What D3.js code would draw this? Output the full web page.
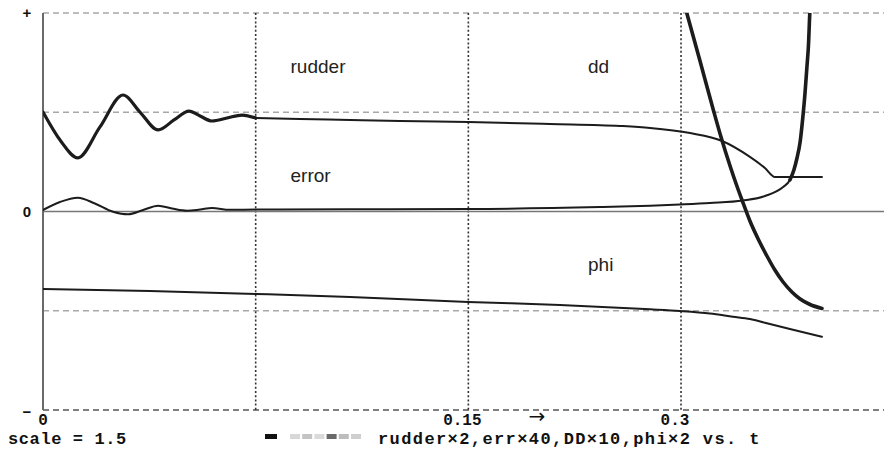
<!DOCTYPE html>
<html>
<head>
<meta charset="utf-8">
<script src="https://cdn.jsdelivr.net/npm/d3@7/dist/d3.min.js"></script>
<style>
  html, body { margin: 0; padding: 0; background: #fff; }
  svg { display: block; }
</style>
</head>
<body>
<script>
// Time samples (s) and scaled responses for each trace
const rudderT = [0, 0.0060, 0.0123, 0.0201, 0.0282, 0.0342, 0.0406, 0.0462, 0.0515, 0.0554, 0.0596, 0.0649, 0.0702, 0.0751, 0.0906, 0.1083, 0.1259, 0.1499, 0.1788, 0.2035, 0.2141, 0.2282, 0.2395, 0.2493, 0.2546, 0.2581, 0.2747];
const rudderV = [0.501, 0.360, 0.270, 0.426, 0.587, 0.501, 0.411, 0.461, 0.506, 0.481, 0.456, 0.471, 0.486, 0.471, 0.466, 0.461, 0.456, 0.451, 0.441, 0.431, 0.421, 0.395, 0.355, 0.275, 0.219, 0.174, 0.174];

const errorT = [0, 0.0060, 0.0123, 0.0183, 0.0247, 0.0300, 0.0353, 0.0406, 0.0455, 0.0508, 0.0554, 0.0596, 0.0659, 0.0751, 0.1083, 0.1499, 0.1965, 0.2141, 0.2246, 0.2352, 0.2468, 0.2546, 0.2610, 0.2634, 0.2648, 0.2659, 0.2670, 0.2680, 0.2687, 0.2694, 0.2700, 0.2703, 0.2707];
const errorV = [0.0076, 0.0479, 0.0695, 0.0403, -0.0010, -0.0141, 0.0076, 0.0292, 0.0151, 0.0040, 0.0101, 0.0176, 0.0086, 0.0101, 0.0111, 0.0126, 0.0227, 0.0292, 0.0353, 0.0428, 0.0554, 0.0781, 0.1234, 0.1587, 0.2091, 0.2695, 0.3501, 0.4811, 0.5919, 0.7280, 0.8539, 0.9647, 1.0907];

const ddT = [0.2253, 0.2270, 0.2317, 0.2364, 0.2391, 0.2423, 0.2447, 0.2465, 0.2493, 0.2522, 0.2553, 0.2581, 0.2610, 0.2641, 0.2670, 0.2705, 0.2747];
const ddV = [1.0882, 1.0015, 0.7582, 0.5113, 0.3753, 0.2292, 0.1285, 0.0579, -0.0479, -0.1385, -0.2242, -0.2947, -0.3552, -0.4055, -0.4408, -0.4685, -0.4887];

const phiT = [0, 0.0377, 0.0751, 0.1083, 0.1499, 0.1823, 0.2141, 0.2246, 0.2352, 0.2433, 0.2493, 0.2553, 0.2634, 0.2747];
const phiV = [-0.3904, -0.4005, -0.4156, -0.4307, -0.4559, -0.4710, -0.4927, -0.5013, -0.5139, -0.5300, -0.5416, -0.5632, -0.5919, -0.6312];

// Grid and tick definitions
const xGrid = [0.075, 0.15, 0.225];
const xTickLabels = [
  { t: 0, text: "0" },
  { t: 0.15, text: "0.15" },
  { t: 0.225, text: "0.3" }
];
const yGridDashed = [1, 0.5, -0.5, -1];
const yTickLabels = [
  { v: 1, text: "+" },
  { v: 0, text: "0" },
  { v: -1, text: "\u2212" }
];
const traceLabels = [
  { t: 0.0873, v: 0.70, text: "rudder" },
  { t: 0.1922, v: 0.70, text: "dd" },
  { t: 0.0873, v: 0.15, text: "error" },
  { t: 0.1922, v: -0.30, text: "phi" }
];
const legendShades = ["#d8d8d8", "#c4c4c4", "#dadada", "#6a6a6a", "#bdbdbd", "#cfcfcf"];

const W = 884, H = 449;
const x = d3.scaleLinear().domain([0, 0.3]).range([43, 893.7]);
const y = d3.scaleLinear().domain([-1, 1]).range([410, 13]);

const svg = d3.select("body").append("svg")
  .attr("width", W).attr("height", H);

svg.append("defs").append("clipPath").attr("id", "plot")
  .append("rect").attr("x", x(0)).attr("y", y(1)).attr("width", W - x(0)).attr("height", y(-1) - y(1));

// dashed horizontal guides
svg.append("g").selectAll("line").data(yGridDashed).join("line")
  .attr("x1", x(0)).attr("x2", W)
  .attr("y1", d => y(d)).attr("y2", d => y(d))
  .attr("stroke", d => d === -1 ? "#555" : "#a8a8a8")
  .attr("stroke-width", 1.5)
  .attr("stroke-dasharray", "6,4");

// dotted vertical guides
svg.append("g").selectAll("line").data(xGrid).join("line")
  .attr("x1", d => x(d)).attr("x2", d => x(d))
  .attr("y1", y(1)).attr("y2", y(-1))
  .attr("stroke", "#333")
  .attr("stroke-width", 1.6)
  .attr("stroke-dasharray", "2,2.2");

// zero line and left axis
svg.append("line").attr("x1", x(0)).attr("x2", W).attr("y1", y(0)).attr("y2", y(0))
  .attr("stroke", "#777").attr("stroke-width", 1.3);
svg.append("line").attr("x1", x(0)).attr("x2", x(0)).attr("y1", y(1)).attr("y2", y(-1))
  .attr("stroke", "#6a6a6a").attr("stroke-width", 2);

const zip = (ts, vs) => ts.map((t, i) => ({ t, v: vs[i] }));
const line = d3.line().x(d => x(d.t)).y(d => y(d.v)).curve(d3.curveMonotoneX);

const curves = svg.append("g").attr("clip-path", "url(#plot)")
  .attr("fill", "none").attr("stroke", "#1c1c1c")
  .attr("stroke-linejoin", "round").attr("stroke-linecap", "round");

const rudder = zip(rudderT, rudderV);
const error = zip(errorT, errorV);
const dd = zip(ddT, ddV);
const phi = zip(phiT, phiV);

curves.append("path").attr("d", line(phi)).attr("stroke-width", 2);
curves.append("path").attr("d", line(rudder.filter(d => d.t >= 0.0751))).attr("stroke-width", 2);
curves.append("path").attr("d", line(rudder.filter(d => d.t <= 0.0751))).attr("stroke-width", 3.2);
curves.append("path").attr("d", line(error)).attr("stroke-width", 2);
curves.append("path").attr("d", line(error.filter(d => d.t >= 0.2634))).attr("stroke-width", 3.6);
curves.append("path").attr("d", line(dd)).attr("stroke-width", 3.6);

// trace names
svg.append("g").selectAll("text").data(traceLabels).join("text")
  .attr("x", d => x(d.t)).attr("y", d => y(d.v))
  .attr("font-family", "Liberation Sans, Arial, sans-serif")
  .attr("font-size", 19).attr("fill", "#222")
  .text(d => d.text);

// y tick marks
svg.append("g").selectAll("text").data(yTickLabels).join("text")
  .attr("x", 27).attr("y", d => y(d.v))
  .attr("dy", d => d.v === -1 ? "0.45em" : "0.36em")
  .attr("text-anchor", "middle")
  .attr("font-family", "Liberation Sans, Arial, sans-serif")
  .attr("font-weight", "bold").attr("font-size", 15).attr("fill", "#111")
  .text(d => d.text);

const mono = "Liberation Mono, Courier New, monospace";

// x tick labels
svg.append("g").selectAll("text").data(xTickLabels).join("text")
  .attr("x", d => x(d.t)).attr("y", 424.5)
  .attr("dx", d => d.t === 0 ? 0 : -6)
  .attr("text-anchor", "middle")
  .attr("font-family", mono).attr("font-weight", "bold").attr("font-size", 16).attr("fill", "#111")
  .text(d => d.text);

svg.append("text").attr("x", 537).attr("y", 423).attr("text-anchor", "middle")
  .attr("font-family", "DejaVu Sans, sans-serif").attr("font-size", 20).attr("fill", "#111")
  .text("\u2192");

// footer
svg.append("text").attr("x", 8).attr("y", 443.5)
  .attr("font-family", mono).attr("font-weight", "bold").attr("font-size", 17)
  .attr("letter-spacing", 0.6).attr("fill", "#111")
  .text("scale = 1.5");

svg.append("rect").attr("x", 265).attr("y", 434).attr("width", 12).attr("height", 5).attr("fill", "#111");
svg.append("g").selectAll("rect").data(legendShades).join("rect")
  .attr("x", (d, i) => 290 + i * 12.2).attr("y", 434).attr("width", 10).attr("height", 5)
  .attr("fill", d => d);

svg.append("text").attr("x", 378).attr("y", 443.5)
  .attr("font-family", mono).attr("font-weight", "bold").attr("font-size", 17)
  .attr("letter-spacing", 1.4).attr("fill", "#111")
  .text("rudder\u00d72,err\u00d740,DD\u00d710,phi\u00d72 vs. t");
</script>
</body>
</html>
